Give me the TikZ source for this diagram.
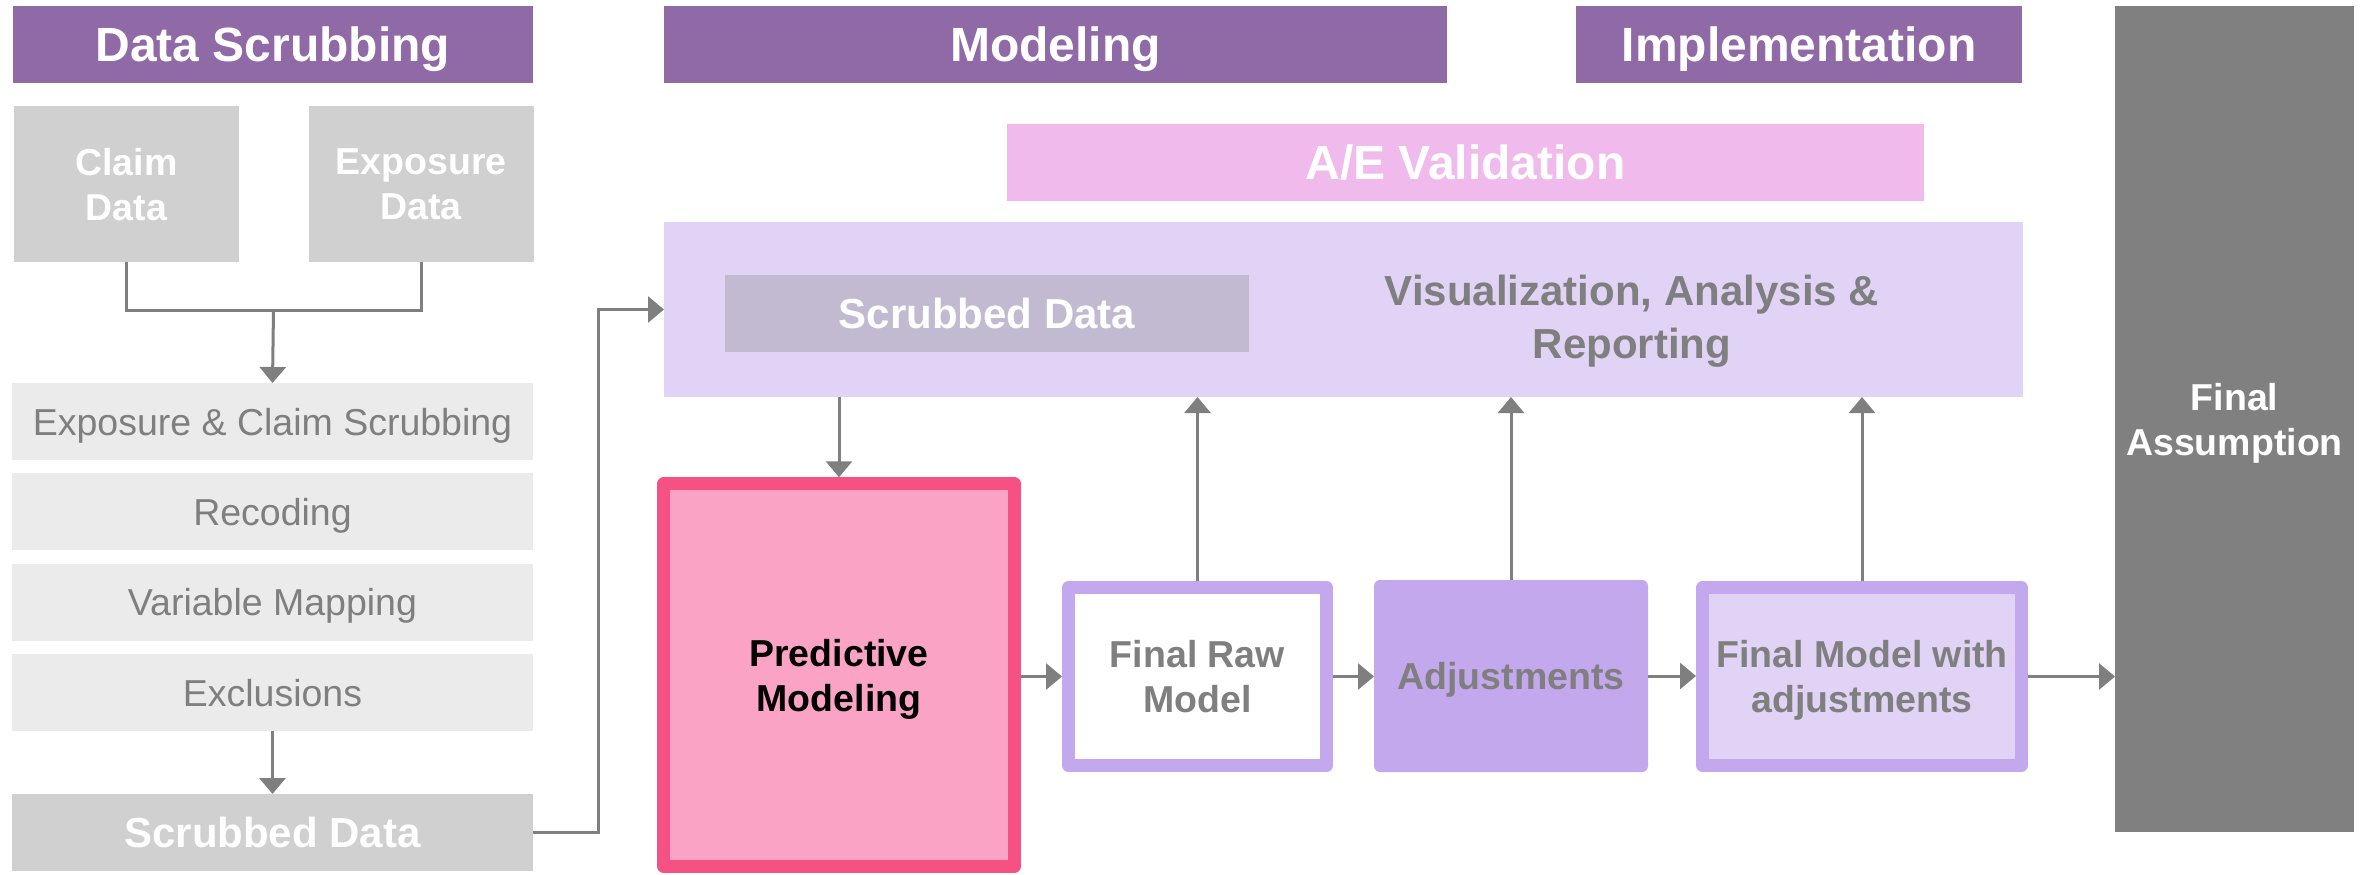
\documentclass[tikz,border=0pt]{standalone}
\usepackage{fontspec}
\setmainfont{Liberation Sans}
\usetikzlibrary{arrows.meta}

\definecolor{headpurple}{RGB}{144,106,166}
\definecolor{srcgray}{RGB}{208,208,208}
\definecolor{stepgray}{RGB}{235,235,235}
\definecolor{txtgray}{RGB}{127,127,127}
\definecolor{aepink}{RGB}{240,186,236}
\definecolor{lavender}{RGB}{225,211,246}
\definecolor{innergray}{RGB}{194,186,208}
\definecolor{rosefill}{RGB}{251,163,196}
\definecolor{roseedge}{RGB}{245,82,131}
\definecolor{violet}{RGB}{195,168,238}
\definecolor{darkgray}{RGB}{128,128,128}

\tikzset{
  box/.style={rectangle, inner sep=0pt, outer sep=0pt, align=center, text depth=0pt},
  big/.style={font=\fontsize{48}{58}\selectfont\bfseries},
  mid/.style={font=\fontsize{42}{53}\selectfont\bfseries},
  small/.style={font=\fontsize{37.5}{45}\selectfont\bfseries},
  head/.style={box, big, fill=headpurple, text=white, minimum height=77pt},
  srcbox/.style={box, small, fill=srcgray, text=white, minimum width=225pt, minimum height=156pt},
  stepbox/.style={box, fill=stepgray, text=txtgray, font=\fontsize{37.5}{45}\selectfont,
    minimum width=521pt, minimum height=77pt},
  framebox/.style={box, small, line width=13pt, line join=round, outer sep=6.5pt},
  arr/.style={draw=txtgray, line width=3pt, -{Triangle[length=16pt, width=26pt]}},
  link/.style={draw=txtgray, line width=3pt},
}

\begin{document}
\begin{tikzpicture}[x=1pt, y=-1pt]
  \useasboundingbox (0,0) rectangle (2364,875);

  % phase headers
  \node[head, minimum width=520pt] (hds)  at (273,44.5)    {Data Scrubbing};
  \node[head, minimum width=783pt] (hmod) at (1055.5,44.5) {Modeling};
  \node[head, minimum width=446pt] (himp) at (1799,44.5)   {Implementation};

  % data scrubbing column
  \node[srcbox] (claim) at (126.5,184) {Claim\\Data};
  \node[srcbox] (expo)  at (421,184)   {Exposure\\Data};
  \node[stepbox] (ecs) at (272.5,421.5) {Exposure \& Claim Scrubbing};
  \node[stepbox] (rec) at (272.5,511.5) {Recoding};
  \node[stepbox] (var) at (272.5,602)   {Variable Mapping};
  \node[stepbox] (exc) at (272.5,692.5) {Exclusions};
  \node[box, mid, fill=srcgray, text=white, minimum width=521pt, minimum height=77pt]
    (sd) at (272.5,832.5) {Scrubbed Data};
  \coordinate (join) at (273.5,310);

  % A/E validation band
  \node[box, big, fill=aepink, text=white, minimum width=917pt, minimum height=77pt]
    (ae) at (1465.5,162.5) {A/E Validation};
  \node[box, fill=lavender, minimum width=1359pt, minimum height=175pt]
    (panel) at (1343.5,309.5) {};
  \node[box, mid, fill=innergray, text=white, minimum width=524pt, minimum height=77pt]
    (sdin) at (987,313.5) {Scrubbed Data};
  \node[box, mid, text=txtgray] (vis) at (1632,316.5) {Visualization, Analysis \&\\Reporting};

  % modeling chain
  \node[framebox, draw=roseedge, fill=rosefill, text=black,
        minimum width=350.5pt, minimum height=382.5pt] (pred) at (839,675) {Predictive\\Modeling};
  \node[framebox, draw=violet, fill=white, text=txtgray,
        minimum width=258pt, minimum height=178pt] (frm) at (1197.5,676.5) {Final Raw\\Model};
  \node[box, small, fill=violet, text=txtgray, rounded corners=6pt,
        minimum width=274pt, minimum height=192pt] (adj) at (1511,676) {Adjustments};
  \node[framebox, draw=violet, fill=lavender, text=txtgray,
        minimum width=319pt, minimum height=178pt] (fm) at (1862,676.5) {Final Model with\\adjustments};

  % final result
  \node[box, small, fill=darkgray, text=white, minimum width=239pt, minimum height=826pt]
    (fa) at (2234.5,419) {Final\\Assumption};

  % connectors
  \draw[link] (claim.south) |- (join) -| (expo.south);
  \draw[arr] (join) -- (ecs.north);
  \draw[arr] (exc.south) -- (sd.north);
  \draw[arr] (sd.east) -- ++(65.5,0) |- (panel.west);
  \draw[arr] (pred.north |- panel.south) -- (pred.north);
  \draw[arr] (frm.west -| pred.east) -- (frm.west);
  \draw[arr] (frm.east) -- (frm.east -| adj.west);
  \draw[arr] (adj.east) -- (adj.east -| fm.west);
  \draw[arr] (fm.east) -- (fm.east -| fa.west);
  \draw[arr] (frm.north) -- (frm.north |- panel.south);
  \draw[arr] (adj.north) -- (adj.north |- panel.south);
  \draw[arr] (fm.north) -- (fm.north |- panel.south);
\end{tikzpicture}
\end{document}
